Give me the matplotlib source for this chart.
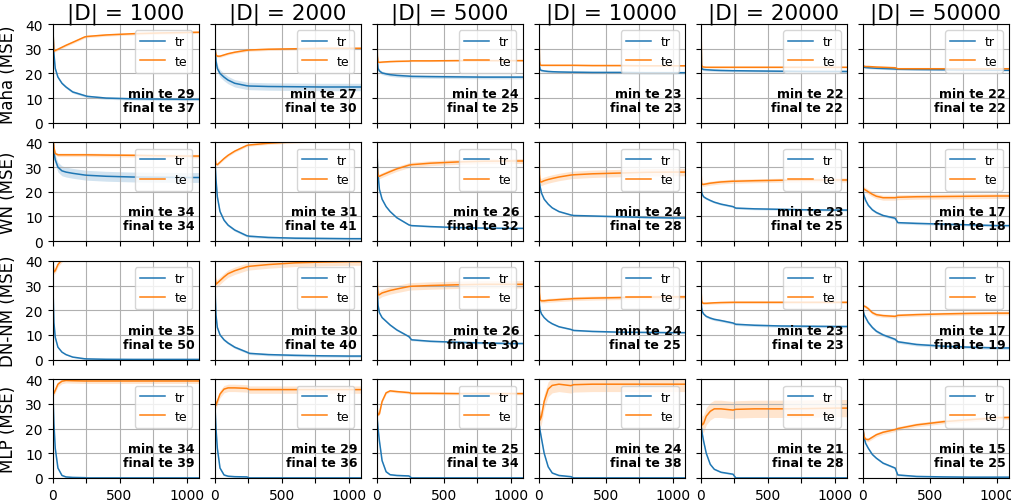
import numpy as np
import matplotlib
matplotlib.use('Agg')
import matplotlib.pyplot as plt

X = [0, 5, 10, 20, 40, 70, 100, 150, 240, 260, 400, 600, 800, 1000, 1090]

sizes = [1000, 2000, 5000, 10000, 20000, 50000]
models = ['Maha', 'WN', 'DN-NM', 'MLP']

# Maha
maha_tr = [
    [45, 35, 28, 22, 18.5, 16, 14.5, 12.5, 11, 10.7, 10, 9.7, 9.6, 9.5, 9.5],
    [45, 30, 25, 22, 20, 18.5, 17.3, 16, 15, 14.9, 14.7, 14.6, 14.5, 14.5, 14.5],
    [40, 25, 22, 21, 20.2, 19.8, 19.5, 19.2, 18.9, 18.8, 18.7, 18.6, 18.5, 18.5, 18.5],
    [40, 23, 21.5, 21.2, 21, 20.8, 20.7, 20.6, 20.5, 20.5, 20.4, 20.4, 20.3, 20.3, 20.3],
    [40, 22.5, 21.8, 21.6, 21.5, 21.4, 21.3, 21.2, 21.1, 21.1, 21, 20.9, 20.8, 20.8, 20.8],
    [23, 22.6, 22.5, 22.4, 22.3, 22.2, 22.1, 22, 21.8, 21.7, 21.6, 21.5, 21.4, 21.3, 21.3],
]
maha_te = [
    [45, 35, 29, 29.3, 29.8, 30.6, 31.4, 32.6, 34.8, 35, 35.6, 36.1, 36.4, 36.6, 36.7],
    [45, 29, 27.5, 27, 27, 27.5, 28, 28.6, 29.4, 29.5, 29.8, 30, 30.2, 30.2, 30.2],
    [45, 27, 24.6, 24.5, 24.6, 24.7, 24.8, 24.9, 25, 25.1, 25.1, 25.2, 25.2, 25.2, 25.2],
    [45, 25, 23.4, 23.3, 23.3, 23.3, 23.3, 23.3, 23.3, 23.3, 23.2, 23.2, 23.1, 23.1, 23.1],
    [45, 23.5, 22.7, 22.6, 22.5, 22.5, 22.5, 22.5, 22.5, 22.5, 22.5, 22.5, 22.5, 22.5, 22.5],
    [23.5, 23, 22.9, 22.8, 22.8, 22.7, 22.6, 22.5, 22.3, 21.9, 21.9, 21.9, 21.9, 21.9, 21.9],
]
maha_tr_sd = [0.5, 1.5, 0.7, 0.5, 0.5, 0.4]
maha_te_sd = [0.5, 0.5, 0.3, 0.3, 0.3, 0.3]

# WN
wn_tr = [
    [45, 40, 36, 33, 30, 28.5, 28, 27.5, 26.8, 26.7, 26.3, 26, 25.9, 25.8, 25.8],
    [35, 30, 25, 18, 12, 8.5, 6.5, 4.5, 2.2, 2, 1.5, 1.2, 1.1, 1, 1],
    [40, 32, 27, 21, 17, 14, 12, 9.5, 6.6, 6.3, 5.9, 5.5, 5.3, 5.2, 5.2],
    [28, 24, 22, 19.5, 17, 15, 13.5, 12, 10.6, 10.4, 10.2, 9.9, 9.6, 9.4, 9.4],
    [25, 20, 19, 18, 17.3, 16.5, 15.8, 15, 14, 13.4, 13.1, 12.9, 12.7, 12.6, 12.6],
    [20, 19, 18, 16.5, 14.5, 12.7, 11.6, 10.4, 9.3, 7.5, 7.2, 6.9, 6.6, 6.3, 6.3],
]
wn_te = [
    [45, 42, 38, 35.5, 35, 35, 35, 35, 35, 35, 34.9, 34.8, 34.6, 34.5, 34.5],
    [45, 33, 31.2, 31, 32, 33.5, 34.8, 36.5, 38.8, 39, 39.7, 40.3, 40.7, 41, 41],
    [45, 30, 26.5, 26.3, 26.8, 27.5, 28.2, 29.3, 30.8, 31, 31.6, 32.1, 32.4, 32.5, 32.5],
    [45, 27, 24, 24, 24.5, 25, 25.4, 26, 26.8, 26.9, 27.3, 27.6, 27.9, 28, 28],
    [30, 23.5, 23, 23, 23.2, 23.5, 23.7, 24, 24.3, 24.3, 24.5, 24.7, 24.8, 24.8, 24.8],
    [21.5, 21.2, 21, 20.7, 20, 19, 18.2, 17.6, 17.6, 17.8, 18, 18.1, 18.2, 18.3, 18.3],
]
wn_tr_sd = [2, 0.5, 0.3, 0.3, 0.4, 0.5]
wn_te_sd = [0.7, 0.5, 1, 1.5, 0.8, 1]

# DN-NM
dn_tr = [
    [40, 25, 15, 9, 5, 3, 2, 1, 0.3, 0.25, 0.1, 0.05, 0.05, 0.05, 0.05],
    [38, 25, 18, 13, 10, 8, 6.7, 5, 3, 2.5, 2, 1.7, 1.5, 1.4, 1.4],
    [35, 27, 22, 19, 17, 15.5, 14, 12, 9.3, 8, 7.4, 7, 6.7, 6.5, 6.5],
    [28, 22, 20, 18.5, 17, 15.5, 14.5, 13.3, 12.2, 11.8, 11.4, 11.1, 11, 10.9, 10.9],
    [25, 21, 19.5, 18.5, 17.5, 16.8, 16.3, 15.8, 14.8, 14.3, 13.9, 13.6, 13.5, 13.4, 13.4],
    [20, 19, 18, 17, 15, 13, 11.5, 10, 8.2, 7.2, 6.1, 5.4, 5, 4.7, 4.7],
]
dn_te = [
    [45, 38, 35.5, 36, 38.5, 40.5, 42, 44, 46, 46.3, 47.5, 48.5, 49.3, 50, 50],
    [45, 33, 30.5, 31, 32, 33.5, 34.8, 36, 37.6, 37.8, 38.5, 39.2, 39.5, 39.7, 39.7],
    [45, 30, 26.2, 26.3, 27, 27.5, 28, 28.6, 29.6, 29.7, 30, 30.3, 30.5, 30.5, 30.5],
    [45, 27, 24, 23.8, 23.8, 24, 24.1, 24.3, 24.6, 24.7, 24.9, 25.1, 25.3, 25.4, 25.4],
    [30, 24, 23, 22.8, 22.8, 22.9, 23, 23.1, 23.2, 23.2, 23.2, 23.2, 23.2, 23.2, 23.2],
    [22, 21.8, 21.6, 21.4, 20.6, 19, 18.2, 17.8, 17.5, 17.9, 18.2, 18.5, 18.7, 18.8, 18.8],
]
dn_tr_sd = [0.2, 0.5, 0.4, 0.3, 0.5, 0.6]
dn_te_sd = [1, 1.5, 1.5, 0.8, 0.5, 0.7]

# MLP
mlp_tr = [
    [38, 30, 22, 12, 4, 1, 0.4, 0.2, 0.1, 0, 0, 0, 0, 0, 0],
    [32, 26, 20, 12, 4, 1.2, 0.7, 0.5, 0.4, 0, 0, 0, 0, 0, 0],
    [26, 23, 20, 15, 7, 2.5, 1.3, 1, 0.8, 0, 0, 0, 0, 0, 0],
    [22, 21, 19, 16, 10, 4.5, 2, 1, 0.5, 0, 0, 0, 0, 0, 0],
    [21, 20, 18, 15, 10, 5.5, 3.5, 2.3, 1.5, 0, 0, 0, 0, 0, 0],
    [20, 18, 16, 14, 12, 9.5, 8, 6, 4, 1.2, 0.6, 0.4, 0.3, 0.3, 0.3],
]
mlp_te = [
    [40, 35.5, 34.3, 35.5, 38, 39.2, 39.5, 39.4, 39.3, 39.3, 39.3, 39.3, 39.3, 39.3, 39.3],
    [40, 31, 29.5, 31, 34, 36, 36.5, 36.5, 36.3, 35.8, 35.8, 35.8, 35.8, 35.8, 35.8],
    [30, 27, 25.5, 26, 31, 34.5, 35.3, 35, 34.6, 34.3, 34.3, 34.2, 34.2, 34.2, 34.2],
    [30, 26, 23.5, 25, 31, 36, 37.5, 38, 37.4, 37.8, 38, 38, 38, 38, 38],
    [25, 22.5, 21.5, 22, 25, 27, 28, 28, 27.5, 27.8, 28, 28, 28.1, 28.3, 28.3],
    [20, 18, 16.5, 15.7, 15.5, 16.5, 17.5, 18.5, 19.6, 20, 21.5, 22.8, 23.6, 24.4, 24.5],
]
mlp_tr_sd = [0.3, 0.3, 0.3, 0.3, 0.3, 0.4]
mlp_te_sd = [1, 1.5, 0.5, 3, 3.5, 0.8]

min_te = [[29, 27, 24, 23, 22, 22],
          [34, 31, 26, 24, 23, 17],
          [35, 30, 26, 24, 23, 17],
          [34, 29, 25, 24, 21, 15]]
final_te = [[37, 30, 25, 23, 22, 22],
            [34, 41, 32, 28, 25, 18],
            [50, 40, 30, 25, 23, 19],
            [39, 36, 34, 38, 28, 25]]

rows = [(maha_tr, maha_te, maha_tr_sd, maha_te_sd),
        (wn_tr, wn_te, wn_tr_sd, wn_te_sd),
        (dn_tr, dn_te, dn_tr_sd, dn_te_sd),
        (mlp_tr, mlp_te, mlp_tr_sd, mlp_te_sd)]

fig, axes = plt.subplots(4, 6, figsize=(10.11, 5.02), dpi=100)
plt.subplots_adjust(left=0.052, right=0.998, top=0.95, bottom=0.046,
                    wspace=0.11, hspace=0.2)

x = np.array(X)
for i, (tr, te, tr_sd, te_sd) in enumerate(rows):
    for j in range(6):
        ax = axes[i, j]
        ytr = np.array(tr[j])
        yte = np.array(te[j])
        ax.plot(x, ytr, color='C0', lw=1.1, label='tr')
        ax.fill_between(x, ytr - tr_sd[j], ytr + tr_sd[j], color='C0', alpha=0.2, lw=0)
        ax.plot(x, yte, color='C1', lw=1.1, label='te')
        ax.fill_between(x, yte - te_sd[j], yte + te_sd[j], color='C1', alpha=0.2, lw=0)
        ax.set_xlim(0, 1090)
        ax.set_ylim(0, 40)
        ax.set_yticks([0, 10, 20, 30, 40])
        ax.set_xticks([0, 250, 500, 750, 1000])
        ax.grid(True)
        if i == 3:
            ax.set_xticklabels(['0', '', '500', '', '1000'], fontsize=10)
        else:
            ax.set_xticklabels([])
        if j == 0:
            ax.tick_params(axis='y', labelsize=10)
            ax.set_ylabel(models[i] + ' (MSE)', fontsize=12, labelpad=6)
        else:
            ax.set_yticklabels([])
        if i == 0:
            ax.set_title('|D| = %d' % sizes[j], fontsize=15.5, pad=4)
        ax.legend(loc='upper right', fontsize=9)
        ax.text(0.975, 0.09, 'min te %d\nfinal te %d' % (min_te[i][j], final_te[i][j]),
                transform=ax.transAxes, ha='right', va='bottom',
                fontsize=9, fontweight='bold', linespacing=1.1)

fig.savefig('out.png', dpi=100)
